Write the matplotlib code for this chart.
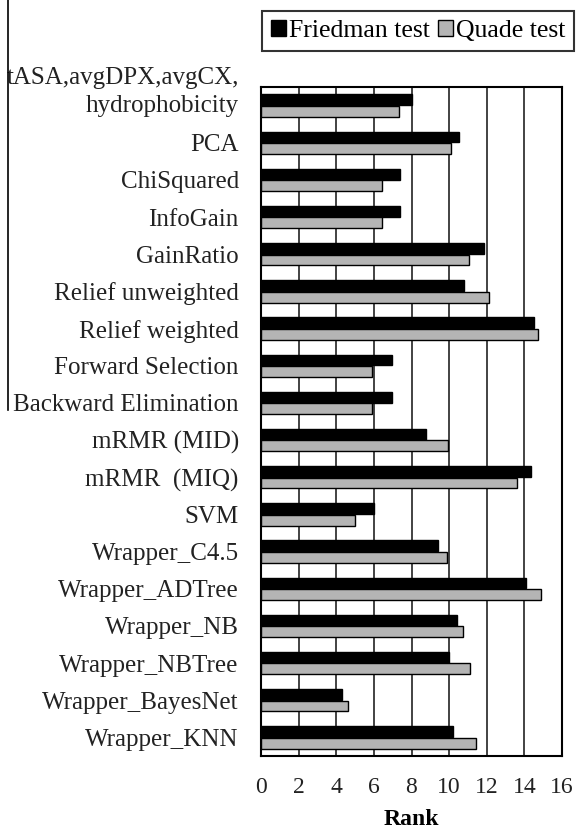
import matplotlib
matplotlib.use("Agg")
import matplotlib.pyplot as plt
import matplotlib.transforms as mtransforms
import numpy as np
from matplotlib.lines import Line2D

categories = [
    "tASA,avgDPX,avgCX,\nhydrophobicity", "PCA", "ChiSquared", "InfoGain", "GainRatio",
    "Relief unweighted", "Relief weighted", "Forward Selection", "Backward Elimination",
    "mRMR (MID)", "mRMR  (MIQ)", "SVM", "Wrapper_C4.5", "Wrapper_ADTree",
    "Wrapper_NB", "Wrapper_NBTree", "Wrapper_BayesNet", "Wrapper_KNN",
]
friedman = [8.0, 10.5, 7.4, 7.4, 11.85, 10.8, 14.5, 6.95, 6.95, 8.75, 14.35, 6.0, 9.4, 14.1, 10.4, 10.0, 4.3, 10.2]
quade = [7.35, 10.1, 6.45, 6.45, 11.05, 12.1, 14.7, 5.9, 5.9, 9.95, 13.6, 5.0, 9.9, 14.9, 10.75, 11.1, 4.65, 11.45]
xticks = [0, 2, 4, 6, 8, 10, 12, 14, 16]

plt.rcParams['font.family'] = ['Liberation Serif', 'DejaVu Serif']

fig = plt.figure(figsize=(5.78, 8.3), dpi=100)
W, H = 578, 830
ax = fig.add_axes([261 / W, 1 - 756 / H, (562 - 261) / W, (756 - 87) / H])

y = np.arange(len(categories))
h = 0.29
ax.barh(y - 0.155, friedman, height=h, color='black', edgecolor='black', linewidth=1, label='Friedman test', zorder=3)
ax.barh(y + 0.155, quade, height=h, color='#b4b4b4', edgecolor='black', linewidth=1, label='Quade test', zorder=3)

ax.set_xlim(0, 16)
ax.set_ylim(len(categories) - 0.5, -0.5)
ax.set_xticks(xticks)
ax.set_xticklabels([str(t) for t in xticks], fontsize=17, color='#222222')
ax.set_yticks(y)
ylabels = [""] + categories[1:]
ax.set_yticklabels(ylabels, fontsize=18, color='#222222')
ax.tick_params(axis='y', length=0, pad=16)
ax.tick_params(axis='x', length=0, pad=15)
ax.grid(axis='x', color='#222222', linewidth=1.2, zorder=0)
for s in ax.spines.values():
    s.set_linewidth(1.5)
    s.set_color('black')
ax.set_xlabel('Rank', fontsize=17, fontweight='bold', labelpad=8)

# multi-line first label, placed slightly above its category centre as in the original
trans = mtransforms.blended_transform_factory(ax.transAxes, ax.transData)
off = mtransforms.ScaledTranslation(-22 / 100, 14 / 100, fig.dpi_scale_trans)
ax.text(0, y[0], categories[0], transform=trans + off, ha='right', va='center',
        fontsize=18, color='#222222', linespacing=1.35, multialignment='right')

leg = fig.legend(loc='upper right', bbox_to_anchor=(574 / W, 1 - 11 / H), ncol=2, fontsize=18.5,
                 frameon=True, fancybox=False, edgecolor='black', handlelength=0.6, handleheight=0.6,
                 handletextpad=0.1, columnspacing=0.3, borderpad=0.35, borderaxespad=0)
leg.get_frame().set_linewidth(1.5)

fig.add_artist(Line2D([8 / W, 8 / W], [1, 1 - 410 / H], color='black', linewidth=1.2))

fig.savefig('out.png', dpi=100, facecolor='white')
